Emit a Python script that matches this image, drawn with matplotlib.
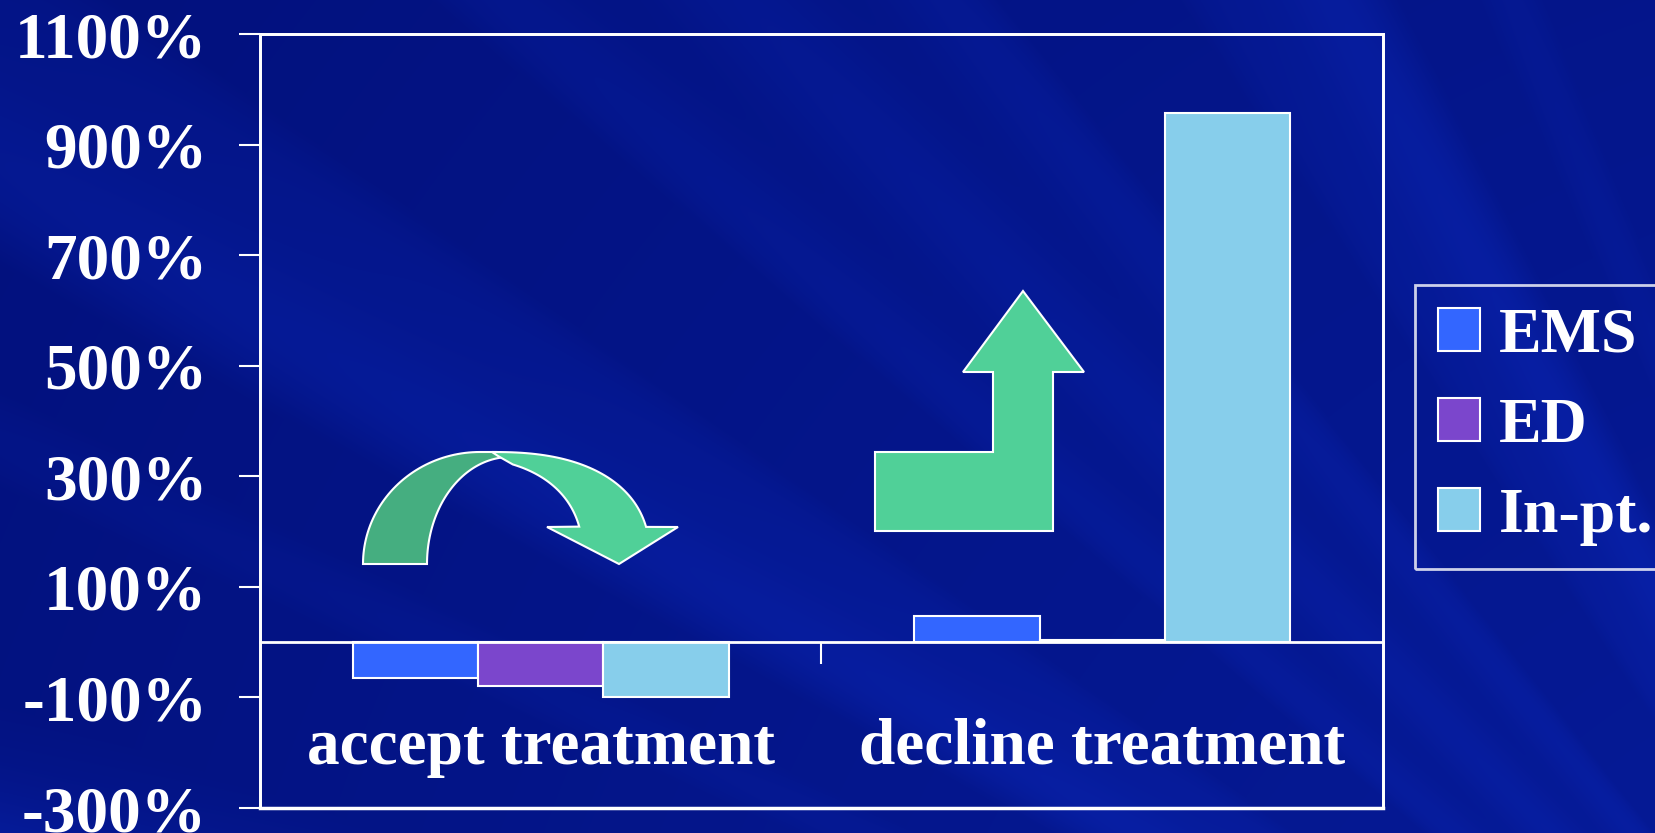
import numpy as np
import matplotlib
matplotlib.use("Agg")
import matplotlib.pyplot as plt
from matplotlib.patches import Polygon

plt.rcParams['font.family'] = ['Liberation Serif', 'DejaVu Serif']
plt.rcParams['font.weight'] = 'bold'

categories = ["accept treatment", "decline treatment"]
series = ["EMS", "ED", "In-pt."]
ems = [-65, 48]
ed = [-79, 4]
inpt = [-99, 957]
colors = ["#3366FF", "#7B46CC", "#87CEEB"]
yticks = [-300, -100, 100, 300, 500, 700, 900, 1100]
ytick_labels = ["-300%", "-100%", "100%", "300%", "500%", "700%", "900%", "1100%"]

W, H = 1656, 833
fig = plt.figure(figsize=(W / 100, H / 100), dpi=100)

# background: dark blue with light streaks radiating from lower right
bg = fig.add_axes([0, 0, 1, 1], zorder=-10)
yy, xx = np.mgrid[0:H, 0:W]
ang = np.arctan2(1400 - yy, 2100 - xx)
dist = np.hypot(2100 - xx, 1400 - yy)
streak = (0.5 * np.cos(ang * 23 + 0.4) + 0.35 * np.cos(ang * 41 + 1.7)
          + 0.25 * np.cos(ang * 67 + 2.9))
streak = np.clip(streak, 0, None)
glow = np.clip(1 - (dist - 600) / 2000, 0, 1)
dark = np.array([0.0, 0.04, 0.42])
light = np.array([0.04, 0.15, 0.72])
t = np.clip(0.22 + 0.38 * streak + 0.35 * glow, 0, 1)[..., None]
img = dark + t * (light - dark)
bg.imshow(img, aspect='auto', extent=[0, 1, 0, 1])
bg.axis('off')

ax = fig.add_axes([260 / W, 1 - 808 / H, (1383 - 260) / W, (808 - 34) / H])
ax.set_facecolor('none')

x = np.arange(len(categories))
w = 0.223
for i, (name, vals) in enumerate(zip(series, [ems, ed, inpt])):
    ax.bar(x + (i - 1) * w, vals, w, color=colors[i], edgecolor='white',
           linewidth=1.5, label=name, zorder=3)

ax.set_xlim(-0.5, 1.5)
ax.set_ylim(-300, 1100)
ax.set_yticks(yticks)
ax.set_yticklabels(ytick_labels)
ax.tick_params(axis='y', colors='white', labelsize=47, length=15, width=1.5,
               pad=23, direction='out')

# frame
ax.patch.set_edgecolor('white')
ax.patch.set_linewidth(2)
for s in ['left', 'top', 'right', 'bottom']:
    ax.spines[s].set_color('white')
    ax.spines[s].set_linewidth(2)
ax.spines['bottom'].set_position(('data', 0))
ax.spines['bottom'].set_zorder(4)
ax.axhline(-300, color='white', lw=2.5, clip_on=False)
ax.set_xticks([0.5])
ax.set_xticklabels([])
ax.tick_params(axis='x', colors='white', length=16, width=1.5, direction='out')

for xi, cat in zip(x, categories):
    ax.text(xi, -220, cat, ha='center', va='baseline', color='white',
            fontsize=47, fontweight='bold')

# decorative arrows (pixel coords of the slide, y from top)
def to_fig(pts):
    pts = np.asarray(pts, dtype=float)
    return np.column_stack([pts[:, 0] / W, 1 - pts[:, 1] / H])

def arc(cx, cy, a, b, t0, t1, n=2.0):
    tt = np.radians(np.linspace(t0, t1, 50))
    c, s = np.cos(tt), np.sin(tt)
    px = cx + a * np.sign(c) * np.abs(c) ** (2 / n)
    py = cy - b * np.abs(s) ** (2 / n)
    return np.column_stack([px, py])

def add_shape(pts, color, z):
    fig.patches.append(Polygon(to_fig(pts), closed=True, facecolor=color,
                               edgecolor='white', lw=1.5,
                               transform=fig.transFigure, figure=fig, zorder=z))

green = "#50D098"
dgreen = "#45AE80"

# bent up arrow
bent = [(875, 531), (1053, 531), (1053, 372), (1084, 372), (1023, 291),
        (963, 372), (993, 372), (993, 452), (875, 452)]
add_shape(bent, green, 5)

# u-turn arrow, back (dark) part
back = np.vstack([arc(480, 564, 117, 112, 180, 90), [(497, 452), (507, 457)],
                  arc(510, 564, 83, 107, 90, 180)])
add_shape(back, dgreen, 5)
# front (light) part with head
front = np.vstack([arc(492, 560, 158, 108, 90, 14, n=2.4),
                   [(678, 527), (619, 564), (547, 527)],
                   arc(450, 560, 133, 103, 15, 66, n=2.4),
                   [(498, 456)]])
add_shape(front, green, 6)

leg = ax.legend(loc='upper left', bbox_to_anchor=(1415 / W, 1 - 285 / H),
                bbox_transform=fig.transFigure, borderaxespad=0, fontsize=46,
                frameon=True, fancybox=False, handlelength=0.66,
                handleheight=0.66, handletextpad=0.3, labelspacing=0.5,
                borderpad=0.36)
leg.get_frame().set_facecolor('none')
leg.get_frame().set_edgecolor('white')
leg.get_frame().set_linewidth(2)
for txt in leg.get_texts():
    txt.set_color('white')

fig.savefig("out.png", dpi=100)
